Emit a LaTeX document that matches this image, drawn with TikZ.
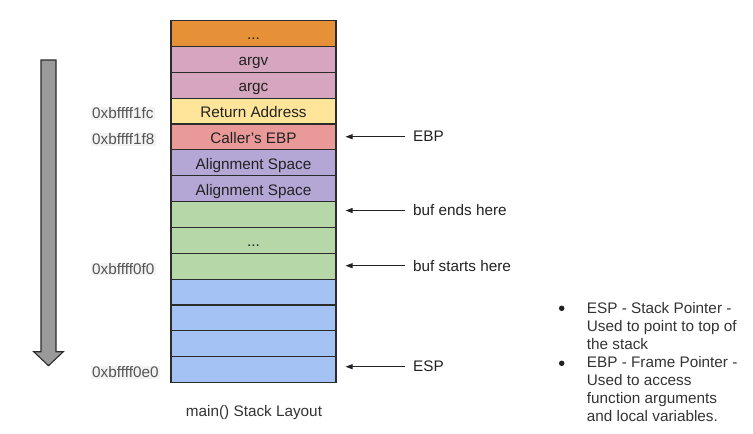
\documentclass[tikz,border=0pt]{standalone}
\usepackage{fontspec}
\setmainfont{Liberation Sans}
\usetikzlibrary{arrows.meta}
\definecolor{cOrange}{HTML}{E69138}
\definecolor{cPink}{HTML}{D5A6BD}
\definecolor{cYellow}{HTML}{FFE599}
\definecolor{cRed}{HTML}{EA9999}
\definecolor{cPurple}{HTML}{B4A7D6}
\definecolor{cGreen}{HTML}{B6D7A8}
\definecolor{cBlue}{HTML}{A4C2F4}
\definecolor{cBorder}{HTML}{2B2B2B}
\definecolor{cText}{HTML}{222222}
\definecolor{cSoft}{HTML}{333333}
\definecolor{cAddr}{HTML}{555555}
\definecolor{cAddrBg}{HTML}{F3F3F3}
\definecolor{cShaft}{HTML}{9A9A9A}
\begin{document}
\begin{tikzpicture}[x=1pt,y=-1pt,
  every node/.style={font=\fontsize{15.3}{18}\selectfont},
  slot/.style={draw=cBorder, line width=1.1pt, minimum width=165pt,
    minimum height=25.86pt, inner sep=0pt, anchor=north, text=cText,
    text height=13pt, text depth=0pt},
  addr/.style={anchor=west, fill=cAddrBg, text=cAddr, inner xsep=1.5pt, inner ysep=0.5pt},
  lbl/.style={anchor=west, inner sep=0pt, text=cText},
  ptr/.style={-{Triangle[length=7pt,width=5pt]}, line width=0.8pt, cText,
    shorten <=8pt, shorten >=9pt},
  bul/.style={anchor=base west, inner sep=0pt, align=left, text=cSoft},
  dotmark/.style={circle, fill=cText, inner sep=0pt, minimum size=5.5pt},
  captext/.style={anchor=base, inner sep=0pt, text=cSoft}]
\useasboundingbox (0,0) rectangle (753,434);

% down arrow
\draw[fill=cShaft, draw=cBorder, line width=1.1pt]
  (41,60) -- (56,60) -- (56,351.7) -- (63.3,351.7) -- (48.5,365.7)
  -- (33.7,351.7) -- (41,351.7) -- cycle;

% stack
\node[slot, fill=cOrange] (r1)  at (253.5,20)     {...};
\node[slot, fill=cPink]   (r2)  at (253.5,45.86)  {argv};
\node[slot, fill=cPink]   (r3)  at (253.5,71.71)  {argc};
\node[slot, fill=cYellow] (r4)  at (253.5,97.57)  {Return Address};
\node[slot, fill=cRed]    (r5)  at (253.5,123.43) {Caller's EBP};
\node[slot, fill=cPurple] (r6)  at (253.5,149.29) {Alignment Space};
\node[slot, fill=cPurple] (r7)  at (253.5,175.14) {Alignment Space};
\node[slot, fill=cGreen]  (r8)  at (253.5,201)    {};
\node[slot, fill=cGreen]  (r9)  at (253.5,226.86) {...};
\node[slot, fill=cGreen]  (r10) at (253.5,252.71) {};
\node[slot, fill=cBlue]   (r11) at (253.5,278.57) {};
\node[slot, fill=cBlue]   (r12) at (253.5,304.43) {};
\node[slot, fill=cBlue]   (r13) at (253.5,330.29) {};
\node[slot, fill=cBlue]   (r14) at (253.5,356.14) {};

% addresses
\node[addr] (a4)  at (90.5,113.5) {0xbffff1fc};
\node[addr] (a5)  at (90.5,139.4) {0xbffff1f8};
\node[addr] (a10) at (90.5,269.2) {0xbffff0f0};
\node[addr] (a14) at (90.5,372.5) {0xbffff0e0};

% pointer labels and arrows
\node[lbl] (ebp)   at (413,136.7) {EBP};
\node[lbl] (bufe)  at (413,210.5) {buf ends here};
\node[lbl] (bufs)  at (413,265.7) {buf starts here};
\node[lbl] (esp)   at (413,366.7) {ESP};
\draw[ptr] (ebp.west)  -- (ebp.west -| r5.east);
\draw[ptr] (bufe.west) -- (bufe.west -| r8.east);
\draw[ptr] (bufs.west) -- (bufs.west -| r10.east);
\draw[ptr] (esp.west)  -- (esp.west -| r14.east);

% caption
\node[captext] (caption) at (254,416) {main() Stack Layout};

% legend
\node[dotmark] (d1) at (561.7,308.3) {};
\node[bul] (t1) at (586.7,349) {ESP - Stack Pointer -\\Used to point to top of\\the stack};
\node[dotmark] (d2) at (561.7,363.3) {};
\node[bul] (t2) at (586.7,421) {EBP - Frame Pointer -\\Used to access\\function arguments\\and local variables.};
\end{tikzpicture}
\end{document}
